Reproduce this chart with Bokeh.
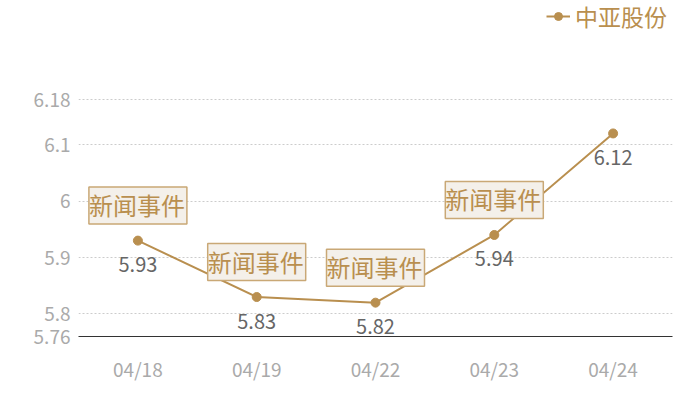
from bokeh.plotting import figure
from bokeh.models import ColumnDataSource, FactorRange, Range1d, FixedTicker, Legend, LegendItem, CustomJSTickFormatter
from bokeh.core.properties import value
from bokeh.embed import file_html
from bokeh.resources import INLINE

dates = ["04/18", "04/19", "04/22", "04/23", "04/24"]
close = [5.93, 5.83, 5.82, 5.94, 6.12]
close_labels = ["5.93", "5.83", "5.82", "5.94", "6.12"]
event_dates = ["04/18", "04/19", "04/22", "04/23"]
event_values = [5.93, 5.83, 5.82, 5.94]
event_text = ["新闻事件", "新闻事件", "新闻事件", "新闻事件"]
y_ticks = [5.76, 5.8, 5.9, 6, 6.1, 6.18]
series_name = "中亚股份"

FONT = "Noto Sans CJK SC"
GOLD = "#b98f4f"

src = ColumnDataSource(dict(x=dates, y=close, lab=close_labels))
ev = ColumnDataSource(dict(x=event_dates, y=event_values, t=event_text))

# y range extends above the top tick so that the legend area sits inside the frame
p = figure(frame_width=594, frame_height=336, output_backend="svg", toolbar_location=None,
           x_range=FactorRange(factors=dates, range_padding=0),
           y_range=Range1d(5.76, 6.3557),
           min_border_left=78, min_border_right=12, min_border_top=0, min_border_bottom=40)
p.outline_line_color = None
p.background_fill_color = "white"

ln = p.line("x", "y", source=src, line_color=GOLD, line_width=2)
pt = p.scatter("x", "y", source=src, size=9, fill_color=GOLD, line_color=GOLD)

p.text("x", "y", text="lab", source=src, y_offset=24, text_align="center", text_baseline="middle",
       text_color="#666666", text_font_size="20px", text_font=value(FONT))

p.text("x", "y", text="t", source=ev, y_offset=-35, text_align="center", text_baseline="middle",
       text_color=GOLD, text_font_size="24px", text_font=value(FONT),
       background_fill_color="#f4f0ea", border_line_color="#c9a876", border_line_width=1.5,
       padding=[0, 2, 0, 2])

p.yaxis.ticker = FixedTicker(ticks=y_ticks)
p.yaxis.formatter = CustomJSTickFormatter(code="return String(Number(tick.toFixed(2)));")
p.yaxis.axis_line_color = None
p.yaxis.major_tick_line_color = None
p.yaxis.minor_tick_line_color = None
p.yaxis.major_label_text_color = "#aaaaaa"
p.yaxis.major_label_text_font_size = "19px"
p.yaxis.major_label_text_font = FONT
p.yaxis.major_label_standoff = 2

p.xaxis.axis_line_color = "#333333"
p.xaxis.axis_line_width = 1
p.xaxis.major_tick_line_color = None
p.xaxis.minor_tick_line_color = None
p.xaxis.major_label_text_color = "#aaaaaa"
p.xaxis.major_label_text_font_size = "19px"
p.xaxis.major_label_text_font = FONT
p.xaxis.major_label_standoff = 12

p.xgrid.grid_line_color = None
p.ygrid.grid_line_color = "#cccccc"
p.ygrid.grid_line_dash = "2 2"

legend = Legend(items=[LegendItem(label=series_name, renderers=[ln, pt])],
                location=(468, 303), orientation="horizontal",
                label_text_color=GOLD, label_text_font_size="23px", label_text_font=FONT,
                glyph_width=24, glyph_height=20, label_standoff=5,
                background_fill_alpha=0, border_line_color=None, padding=0, margin=0)
p.add_layout(legend)

open("out.html", "w").write(file_html(p, INLINE))
